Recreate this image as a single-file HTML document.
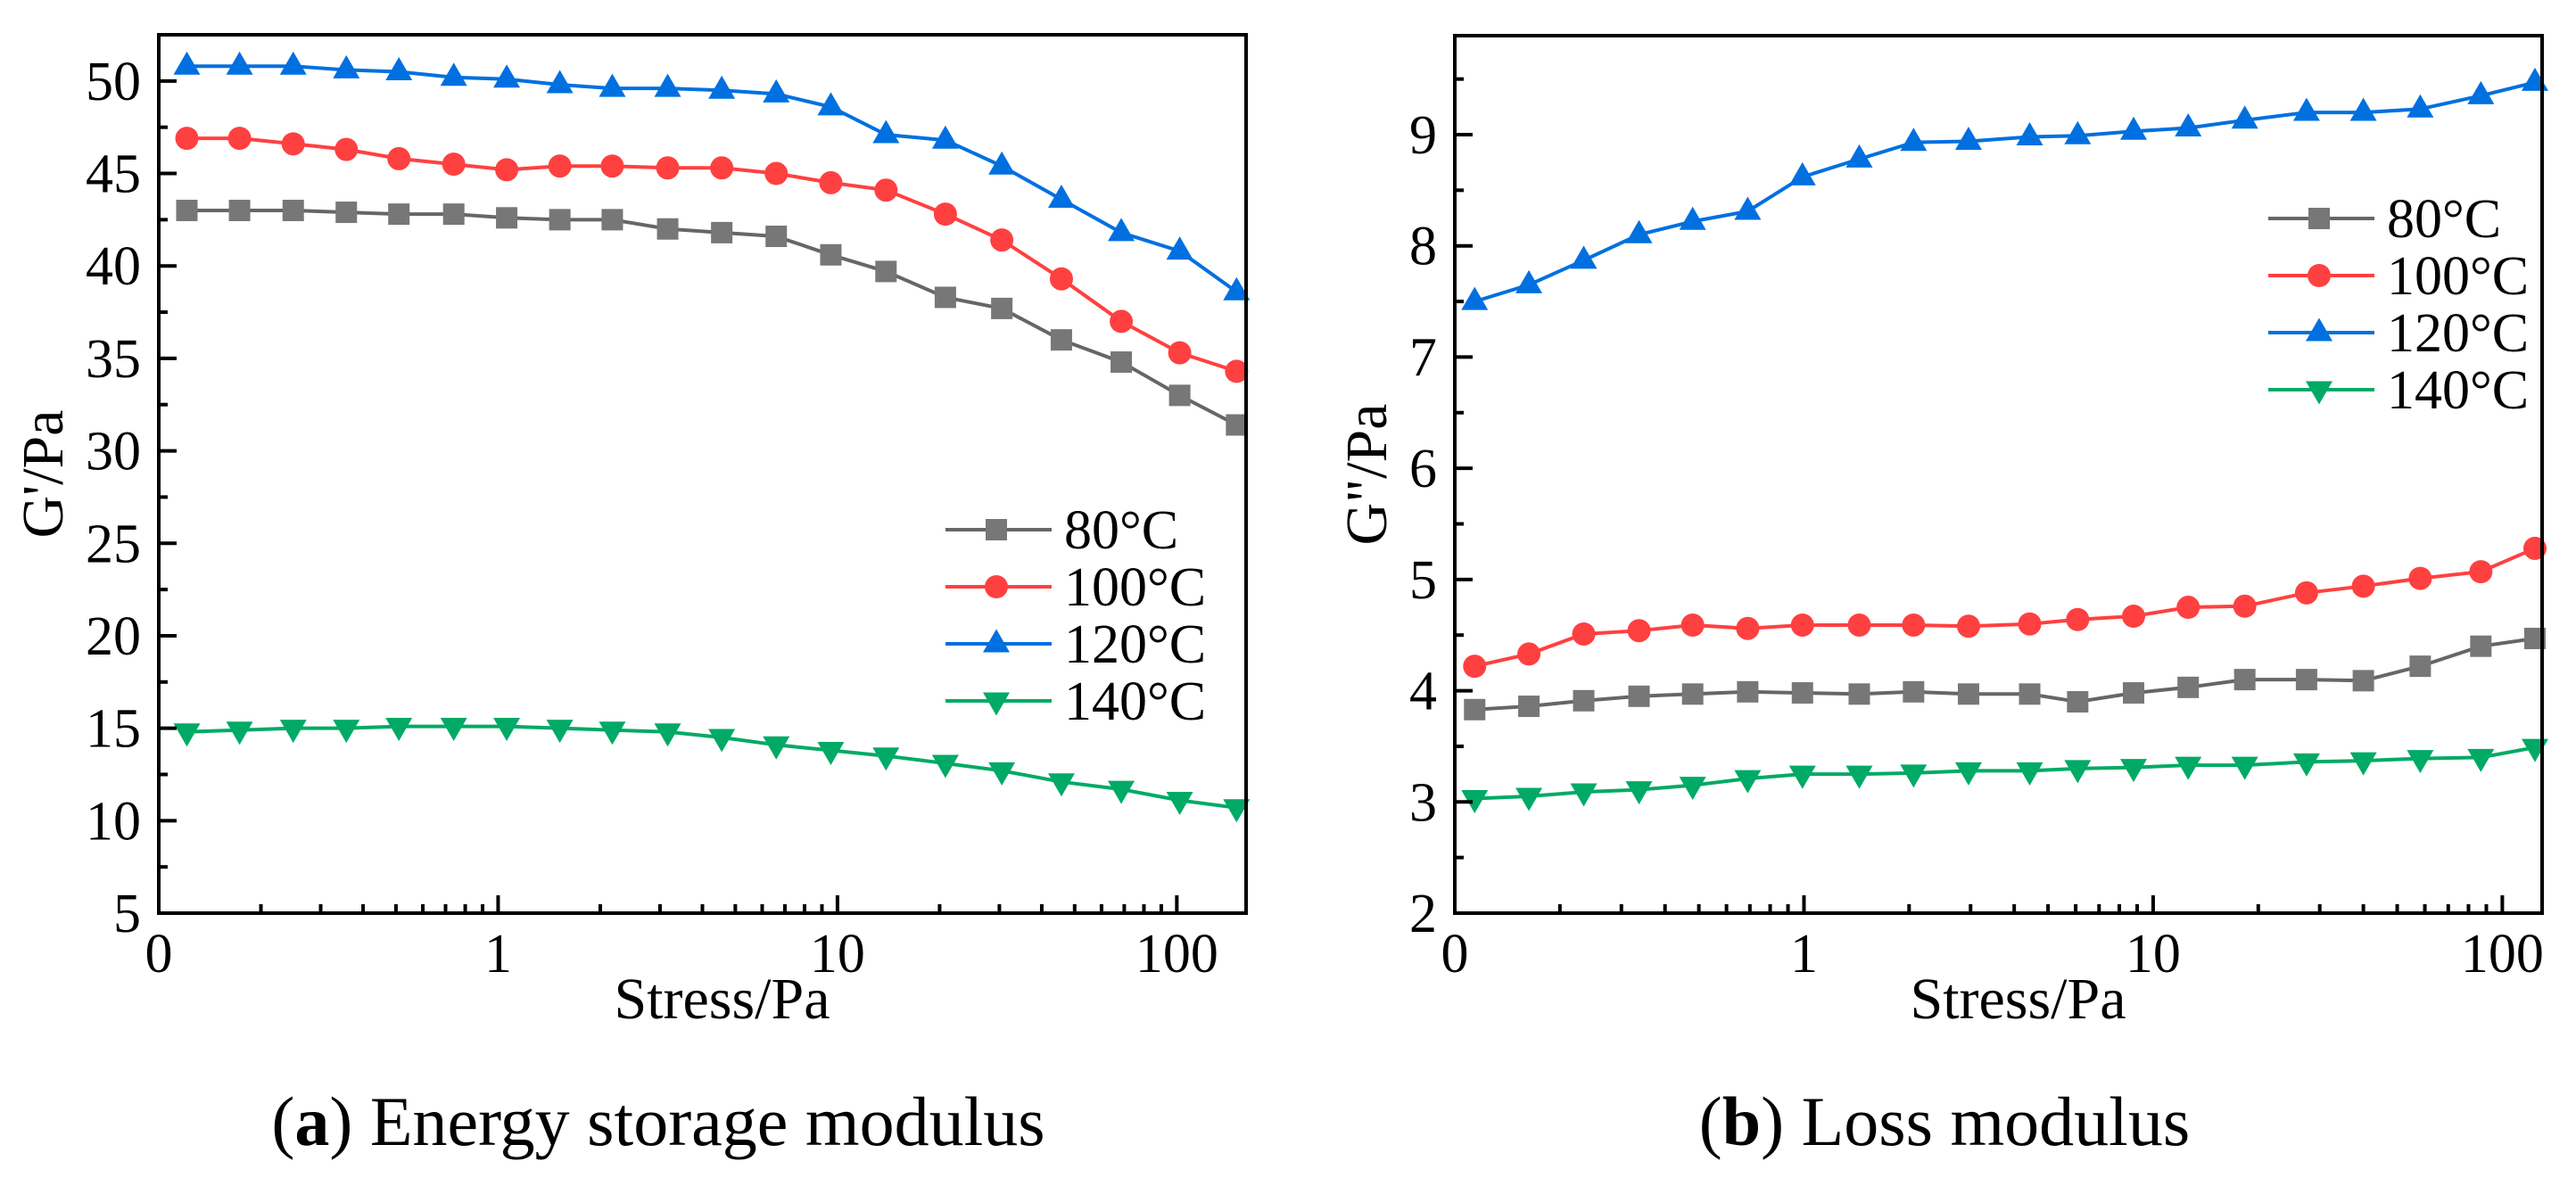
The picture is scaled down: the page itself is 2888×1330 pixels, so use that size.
<!DOCTYPE html>
<html><head><meta charset="utf-8">
<style>
html,body{margin:0;padding:0;background:#fff;}
svg{display:block;}
text{font-family:"Liberation Serif",serif;fill:#000;}
</style></head>
<body>
<svg id="fig" width="2888" height="1330" viewBox="0 0 2888 1330" xmlns="http://www.w3.org/2000/svg"></svg>
<script>
// ---------- Panel (a) data ----------
const stressA = [0.121,0.173,0.249,0.357,0.51,0.74,1.06,1.52,2.17,3.16,4.56,6.6,9.56,13.9,20.8,30.5,45.7,68.6,102,150];
const gA80  = [43.0,43.0,43.0,42.9,42.8,42.8,42.6,42.5,42.5,42.0,41.8,41.6,40.6,39.7,38.3,37.7,36.0,34.8,33.0,31.4];
const gA100 = [46.9,46.9,46.6,46.3,45.8,45.5,45.2,45.4,45.4,45.3,45.3,45.0,44.5,44.1,42.8,41.4,39.3,37.0,35.3,34.3];
const gA120 = [50.8,50.8,50.8,50.6,50.5,50.2,50.1,49.8,49.6,49.6,49.5,49.3,48.6,47.1,46.8,45.4,43.6,41.8,40.8,38.6];
const gA140 = [14.8,14.9,15.0,15.0,15.1,15.1,15.1,15.0,14.9,14.8,14.5,14.1,13.8,13.5,13.1,12.7,12.1,11.7,11.1,10.7];
const yTicksA = [5,10,15,20,25,30,35,40,45,50];
// ---------- Panel (b) data ----------
const stressB = [0.114,0.163,0.234,0.337,0.48,0.69,0.99,1.44,2.06,2.96,4.43,6.08,8.79,12.6,18.3,27.5,40.0,58.2,86.8,124];
const gB80  = [3.83,3.86,3.91,3.95,3.97,3.99,3.98,3.97,3.99,3.97,3.97,3.90,3.98,4.03,4.10,4.10,4.09,4.22,4.40,4.47];
const gB100 = [4.22,4.33,4.51,4.54,4.59,4.56,4.59,4.59,4.59,4.58,4.60,4.64,4.67,4.75,4.76,4.88,4.94,5.01,5.07,5.28];
const gB120 = [7.50,7.65,7.87,8.10,8.22,8.31,8.62,8.78,8.93,8.94,8.98,8.99,9.03,9.06,9.13,9.20,9.20,9.23,9.35,9.47];
const gB140 = [3.03,3.05,3.09,3.11,3.15,3.21,3.25,3.25,3.26,3.28,3.28,3.30,3.31,3.33,3.33,3.36,3.37,3.39,3.40,3.49];
const yTicksB = [2,3,4,5,6,7,8,9];
const xTickVals = [0.1,1,10,100];
const xTickLabels = ["0","1","10","100"];
const seriesNames = ["80°C","100°C","120°C","140°C"];

const NS="http://www.w3.org/2000/svg";
const svg=document.getElementById('fig');
function mk(tag,attrs,parent){const e=document.createElementNS(NS,tag);for(const k in attrs)e.setAttribute(k,attrs[k]);(parent||svg).appendChild(e);return e;}

const colors=["#777777","#ff4040","#0070e0","#00aa66"];
const lineColors=["#666666","#ff4040","#0070e0","#00aa66"];
const markerKinds=["square","circle","up","down"];

function marker(g,kind,cx,cy,color){
  let e;
  if(kind==="square"){e=mk('rect',{x:cx-12,y:cy-12,width:24,height:24,fill:color},g);}
  else if(kind==="circle"){e=mk('circle',{cx:cx,cy:cy,r:13,fill:color},g);}
  else if(kind==="up"){e=mk('polygon',{points:`${cx-15},${cy+9.5} ${cx+15},${cy+9.5} ${cx},${cy-16.5}`,fill:color},g);}
  else {e=mk('polygon',{points:`${cx-15},${cy-9.5} ${cx+15},${cy-9.5} ${cx},${cy+16.5}`,fill:color},g);}
  return e;
}

function panel(cfg){
  const {id,L,R,T,B,xmin,xmax,ymin,ymax,xs,ys,yTicks,minorStep,legX,legY,yLabel,caption,capLetter,capX}=cfg;
  const g=mk('g',{});
  
  
  const xS=v=>L+(Math.log10(v)-Math.log10(xmin))/(Math.log10(xmax)-Math.log10(xmin))*(R-L);
  const yS=v=>B-(v-ymin)/(ymax-ymin)*(B-T);
  for(let s=0;s<4;s++){
    const sg=mk('g',{},g);
    
    
    const pts=xs.map((x,i)=>xS(x).toFixed(1)+','+yS(ys[s][i]).toFixed(1)).join(' ');
    const pl=mk('polyline',{points:pts,fill:'none',stroke:lineColors[s],'stroke-width':4},sg);
    
    
    xs.forEach((x,i)=>{
      const m=marker(sg,markerKinds[s],xS(x),yS(ys[s][i]),colors[s]);
      
      
    });
  }
  const fr=mk('rect',{x:L,y:T,width:R-L,height:B-T,fill:'none',stroke:'#000','stroke-width':4},g);
  
  
  for(let v=ymin;v<=ymax+1e-9;v+=minorStep){
    const major=yTicks.some(t=>Math.abs(t-v)<1e-6);
    const y=yS(v);
    if(y<T+2)continue;
    mk('line',{x1:L,x2:L+(major?20:10),y1:y,y2:y,stroke:'#000','stroke-width':4},g);
  }
  yTicks.forEach(t=>{
    const tx=mk('text',{x:L-20,y:yS(t)+21,'font-size':62,'text-anchor':'end'},g);
    tx.textContent=t;
    
    
  });
  for(let d=-1;d<=2;d++){
    for(let k=1;k<=9;k++){
      const v=k*Math.pow(10,d);
      if(v<xmin-1e-9||v>xmax)continue;
      const x=xS(v);
      mk('line',{x1:x,x2:x,y1:B,y2:B-(k===1?20:10),stroke:'#000','stroke-width':4},g);
    }
  }
  xTickVals.forEach((v,i)=>{
    const tx=mk('text',{x:xS(v),y:1090,'font-size':62,'text-anchor':'middle'},g);
    tx.textContent=xTickLabels[i];
    
    
  });
  const xt=mk('text',{x:(L+R)/2+22,y:1142,'font-size':66,'text-anchor':'middle'},g);
  xt.textContent='Stress/Pa';
  
  
  const yt=mk('text',{x:0,y:0,'font-size':66,'text-anchor':'middle',transform:`translate(${cfg.yLabX},${(T+B)/2}) rotate(-90)`},g);
  yt.textContent=yLabel;
  
  
  const lg=mk('g',{},g);
  
  
  for(let s=0;s<4;s++){
    const y=legY+s*64;
    const eg=mk('g',{},lg);
    
    
    mk('line',{x1:legX,x2:legX+119,y1:y,y2:y,stroke:lineColors[s],'stroke-width':4},eg);
    marker(eg,markerKinds[s],legX+57,y,colors[s]);
    const tx=mk('text',{x:legX+133,y:y+21,'font-size':62},eg);
    tx.textContent=seriesNames[s];
  }
  const cp=mk('text',{x:capX,y:1284,'font-size':78,'text-anchor':'middle'},g);
  
  
  const t1=mk('tspan',{},cp);t1.textContent='(';
  const t2=mk('tspan',{'font-weight':'bold'},cp);t2.textContent=capLetter;
  const t3=mk('tspan',{},cp);t3.textContent=') '+caption;
}

panel({id:'panel-a-storage-modulus',L:178,R:1397,T:39,B:1024,xmin:0.1,xmax:160,ymin:5,ymax:52.5,
  xs:stressA,ys:[gA80,gA100,gA120,gA140],yTicks:yTicksA,minorStep:2.5,legX:1060,legY:594,
  yLabel:"G'/Pa",yLabX:70,caption:'Energy storage modulus',capLetter:'a',capX:738});
panel({id:'panel-b-loss-modulus',L:1631,R:2850,T:40,B:1024,xmin:0.1,xmax:130,ymin:2,ymax:9.89,
  xs:stressB,ys:[gB80,gB100,gB120,gB140],yTicks:yTicksB,minorStep:0.5,legX:2543,legY:245,
  yLabel:'G"/Pa',yLabX:1554,caption:'Loss modulus',capLetter:'b',capX:2180});
</script>
</body></html>
